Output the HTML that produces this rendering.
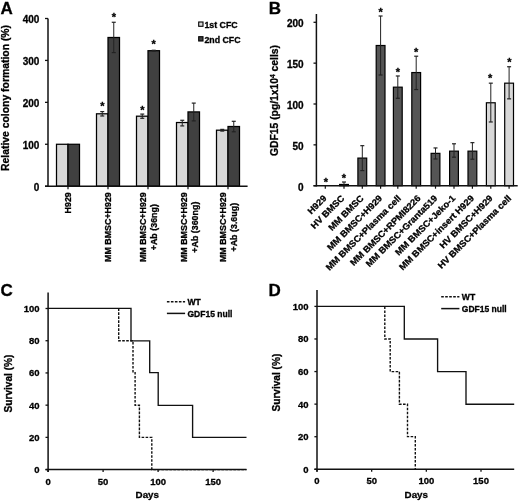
<!DOCTYPE html>
<html><head><meta charset="utf-8"><style>
html,body{margin:0;padding:0;background:#fff;}
svg{display:block;will-change:transform;}
text{font-family:"Liberation Sans", sans-serif;font-weight:bold;fill:#000;stroke:#000;stroke-width:0.3px;}
</style></head><body>
<svg width="520" height="502" viewBox="0 0 520 502">
<rect x="0" y="0" width="520" height="502" fill="#fff"/>
<text x="0.50" y="13.50" font-size="17" text-anchor="start">A</text>
<rect x="56.50" y="144.27" width="11.50" height="41.93" fill="#d8d8d8" stroke="#000" stroke-width="1.25"/>
<rect x="68.00" y="144.27" width="11.50" height="41.93" fill="#404040" stroke="#000" stroke-width="1.25"/>
<rect x="96.50" y="113.80" width="11.50" height="72.40" fill="#d8d8d8" stroke="#000" stroke-width="1.25"/>
<rect x="108.00" y="37.49" width="11.50" height="148.71" fill="#404040" stroke="#000" stroke-width="1.25"/>
<line x1="102.25" y1="111.57" x2="102.25" y2="115.98" stroke="#222" stroke-width="1"/>
<line x1="100.25" y1="111.57" x2="104.25" y2="111.57" stroke="#222" stroke-width="1.2"/>
<line x1="100.25" y1="115.98" x2="104.25" y2="115.98" stroke="#222" stroke-width="1.2"/>
<line x1="113.75" y1="22.27" x2="113.75" y2="52.59" stroke="#222" stroke-width="1"/>
<line x1="111.75" y1="22.27" x2="115.75" y2="22.27" stroke="#222" stroke-width="1.2"/>
<line x1="111.75" y1="52.59" x2="115.75" y2="52.59" stroke="#222" stroke-width="1.2"/>
<rect x="136.50" y="116.19" width="11.50" height="70.01" fill="#d8d8d8" stroke="#000" stroke-width="1.25"/>
<rect x="148.00" y="50.70" width="11.50" height="135.50" fill="#404040" stroke="#000" stroke-width="1.25"/>
<line x1="142.25" y1="114.09" x2="142.25" y2="118.28" stroke="#222" stroke-width="1"/>
<line x1="140.25" y1="114.09" x2="144.25" y2="114.09" stroke="#222" stroke-width="1.2"/>
<line x1="140.25" y1="118.28" x2="144.25" y2="118.28" stroke="#222" stroke-width="1.2"/>
<line x1="153.75" y1="50.28" x2="153.75" y2="51.12" stroke="#222" stroke-width="1"/>
<line x1="151.75" y1="50.28" x2="155.75" y2="50.28" stroke="#222" stroke-width="1.2"/>
<line x1="151.75" y1="51.12" x2="155.75" y2="51.12" stroke="#222" stroke-width="1.2"/>
<rect x="176.50" y="122.52" width="11.50" height="63.68" fill="#d8d8d8" stroke="#000" stroke-width="1.25"/>
<rect x="188.00" y="111.91" width="11.50" height="74.29" fill="#404040" stroke="#000" stroke-width="1.25"/>
<line x1="182.25" y1="120.29" x2="182.25" y2="125.91" stroke="#222" stroke-width="1"/>
<line x1="180.25" y1="120.29" x2="184.25" y2="120.29" stroke="#222" stroke-width="1.2"/>
<line x1="180.25" y1="125.91" x2="184.25" y2="125.91" stroke="#222" stroke-width="1.2"/>
<line x1="193.75" y1="103.10" x2="193.75" y2="120.88" stroke="#222" stroke-width="1"/>
<line x1="191.75" y1="103.10" x2="195.75" y2="103.10" stroke="#222" stroke-width="1.2"/>
<line x1="191.75" y1="120.88" x2="195.75" y2="120.88" stroke="#222" stroke-width="1.2"/>
<rect x="216.50" y="130.19" width="11.50" height="56.01" fill="#d8d8d8" stroke="#000" stroke-width="1.25"/>
<rect x="228.00" y="126.50" width="11.50" height="59.70" fill="#404040" stroke="#000" stroke-width="1.25"/>
<line x1="222.25" y1="129.39" x2="222.25" y2="131.07" stroke="#222" stroke-width="1"/>
<line x1="220.25" y1="129.39" x2="224.25" y2="129.39" stroke="#222" stroke-width="1.2"/>
<line x1="220.25" y1="131.07" x2="224.25" y2="131.07" stroke="#222" stroke-width="1.2"/>
<line x1="233.75" y1="121.30" x2="233.75" y2="131.78" stroke="#222" stroke-width="1"/>
<line x1="231.75" y1="121.30" x2="235.75" y2="121.30" stroke="#222" stroke-width="1.2"/>
<line x1="231.75" y1="131.78" x2="235.75" y2="131.78" stroke="#222" stroke-width="1.2"/>
<text x="102.30" y="110.36" font-size="11" text-anchor="middle">*</text>
<text x="114.00" y="21.16" font-size="11" text-anchor="middle">*</text>
<text x="142.30" y="113.96" font-size="11" text-anchor="middle">*</text>
<text x="153.70" y="48.46" font-size="11" text-anchor="middle">*</text>
<line x1="48.00" y1="18.50" x2="48.00" y2="186.95" stroke="#111" stroke-width="1.5"/>
<line x1="45.00" y1="186.20" x2="247.60" y2="186.20" stroke="#111" stroke-width="1.5"/>
<line x1="45.00" y1="186.20" x2="48.00" y2="186.20" stroke="#111" stroke-width="1.3"/>
<text x="39.40" y="190.90" font-size="10" text-anchor="end">0</text>
<line x1="45.00" y1="144.27" x2="48.00" y2="144.27" stroke="#111" stroke-width="1.3"/>
<text x="39.40" y="148.97" font-size="10" text-anchor="end">100</text>
<line x1="45.00" y1="102.35" x2="48.00" y2="102.35" stroke="#111" stroke-width="1.3"/>
<text x="39.40" y="107.05" font-size="10" text-anchor="end">200</text>
<line x1="45.00" y1="60.42" x2="48.00" y2="60.42" stroke="#111" stroke-width="1.3"/>
<text x="39.40" y="65.12" font-size="10" text-anchor="end">300</text>
<line x1="45.00" y1="18.50" x2="48.00" y2="18.50" stroke="#111" stroke-width="1.3"/>
<text x="39.40" y="23.20" font-size="10" text-anchor="end">400</text>
<line x1="68.00" y1="186.20" x2="68.00" y2="189.20" stroke="#111" stroke-width="1.2"/>
<line x1="108.00" y1="186.20" x2="108.00" y2="189.20" stroke="#111" stroke-width="1.2"/>
<line x1="148.00" y1="186.20" x2="148.00" y2="189.20" stroke="#111" stroke-width="1.2"/>
<line x1="188.00" y1="186.20" x2="188.00" y2="189.20" stroke="#111" stroke-width="1.2"/>
<line x1="228.00" y1="186.20" x2="228.00" y2="189.20" stroke="#111" stroke-width="1.2"/>
<text x="0.00" y="0.00" font-size="10.4" text-anchor="middle" transform="translate(8.80,98.00) rotate(-90)">Relative colony formation (%)</text>
<text x="0.00" y="0.00" font-size="8.9" text-anchor="end" transform="translate(70.90,192.20) rotate(-90)">H929</text>
<text x="0.00" y="0.00" font-size="8.9" text-anchor="end" transform="translate(110.90,192.20) rotate(-90)">MM BMSC+H929</text>
<text x="0.00" y="0.00" font-size="8.9" text-anchor="middle" transform="translate(145.90,227.19) rotate(-90)">MM BMSC+H929</text>
<text x="0.00" y="0.00" font-size="8.9" text-anchor="middle" transform="translate(157.00,227.19) rotate(-90)">+Ab (36ng)</text>
<text x="0.00" y="0.00" font-size="8.9" text-anchor="middle" transform="translate(186.50,227.19) rotate(-90)">MM BMSC+H929</text>
<text x="0.00" y="0.00" font-size="8.9" text-anchor="middle" transform="translate(197.60,227.19) rotate(-90)">+Ab (360ng)</text>
<text x="0.00" y="0.00" font-size="8.9" text-anchor="middle" transform="translate(225.90,227.19) rotate(-90)">MM BMSC+H929</text>
<text x="0.00" y="0.00" font-size="8.9" text-anchor="middle" transform="translate(237.00,227.19) rotate(-90)">+Ab (3.6ug)</text>
<rect x="198.70" y="22.00" width="4.30" height="4.30" fill="#d8d8d8" stroke="#000" stroke-width="1.1"/>
<rect x="198.70" y="36.70" width="4.30" height="4.30" fill="#404040" stroke="#000" stroke-width="1.1"/>
<text x="204.40" y="27.60" font-size="8.8" text-anchor="start">1st CFC</text>
<text x="204.40" y="42.60" font-size="8.8" text-anchor="start">2nd CFC</text>
<text x="268.70" y="13.50" font-size="17" text-anchor="start">B</text>
<rect x="339.60" y="184.47" width="8.80" height="1.23" fill="#555555" stroke="#000" stroke-width="1.2"/>
<line x1="344.00" y1="182.02" x2="344.00" y2="185.29" stroke="#222" stroke-width="1"/>
<line x1="342.00" y1="182.02" x2="346.00" y2="182.02" stroke="#222" stroke-width="1.2"/>
<line x1="342.00" y1="185.29" x2="346.00" y2="185.29" stroke="#222" stroke-width="1.2"/>
<rect x="357.90" y="158.09" width="8.80" height="27.61" fill="#555555" stroke="#000" stroke-width="1.2"/>
<line x1="362.30" y1="145.67" x2="362.30" y2="170.59" stroke="#222" stroke-width="1"/>
<line x1="360.30" y1="145.67" x2="364.30" y2="145.67" stroke="#222" stroke-width="1.2"/>
<line x1="360.30" y1="170.59" x2="364.30" y2="170.59" stroke="#222" stroke-width="1.2"/>
<rect x="376.20" y="45.50" width="8.80" height="140.20" fill="#555555" stroke="#000" stroke-width="1.2"/>
<line x1="380.60" y1="16.01" x2="380.60" y2="75.00" stroke="#222" stroke-width="1"/>
<line x1="378.60" y1="16.01" x2="382.60" y2="16.01" stroke="#222" stroke-width="1.2"/>
<line x1="378.60" y1="75.00" x2="382.60" y2="75.00" stroke="#222" stroke-width="1.2"/>
<rect x="393.40" y="87.17" width="8.80" height="98.53" fill="#555555" stroke="#000" stroke-width="1.2"/>
<line x1="397.80" y1="75.98" x2="397.80" y2="98.28" stroke="#222" stroke-width="1"/>
<line x1="395.80" y1="75.98" x2="399.80" y2="75.98" stroke="#222" stroke-width="1.2"/>
<line x1="395.80" y1="98.28" x2="399.80" y2="98.28" stroke="#222" stroke-width="1.2"/>
<rect x="411.80" y="72.55" width="8.80" height="113.15" fill="#555555" stroke="#000" stroke-width="1.2"/>
<line x1="416.20" y1="56.21" x2="416.20" y2="89.54" stroke="#222" stroke-width="1"/>
<line x1="414.20" y1="56.21" x2="418.20" y2="56.21" stroke="#222" stroke-width="1.2"/>
<line x1="414.20" y1="89.54" x2="418.20" y2="89.54" stroke="#222" stroke-width="1.2"/>
<rect x="431.10" y="153.35" width="8.80" height="32.35" fill="#555555" stroke="#000" stroke-width="1.2"/>
<line x1="435.50" y1="147.95" x2="435.50" y2="158.98" stroke="#222" stroke-width="1"/>
<line x1="433.50" y1="147.95" x2="437.50" y2="147.95" stroke="#222" stroke-width="1.2"/>
<line x1="433.50" y1="158.98" x2="437.50" y2="158.98" stroke="#222" stroke-width="1.2"/>
<rect x="449.60" y="151.14" width="8.80" height="34.56" fill="#555555" stroke="#000" stroke-width="1.2"/>
<line x1="454.00" y1="143.79" x2="454.00" y2="157.19" stroke="#222" stroke-width="1"/>
<line x1="452.00" y1="143.79" x2="456.00" y2="143.79" stroke="#222" stroke-width="1.2"/>
<line x1="452.00" y1="157.19" x2="456.00" y2="157.19" stroke="#222" stroke-width="1.2"/>
<rect x="468.00" y="151.14" width="8.80" height="34.56" fill="#555555" stroke="#000" stroke-width="1.2"/>
<line x1="472.40" y1="142.64" x2="472.40" y2="159.23" stroke="#222" stroke-width="1"/>
<line x1="470.40" y1="142.64" x2="474.40" y2="142.64" stroke="#222" stroke-width="1.2"/>
<line x1="470.40" y1="159.23" x2="474.40" y2="159.23" stroke="#222" stroke-width="1.2"/>
<rect x="486.40" y="102.77" width="8.80" height="82.93" fill="#d8d8d8" stroke="#000" stroke-width="1.2"/>
<line x1="490.80" y1="83.17" x2="490.80" y2="121.97" stroke="#222" stroke-width="1"/>
<line x1="488.80" y1="83.17" x2="492.80" y2="83.17" stroke="#222" stroke-width="1.2"/>
<line x1="488.80" y1="121.97" x2="492.80" y2="121.97" stroke="#222" stroke-width="1.2"/>
<rect x="504.70" y="83.17" width="8.80" height="102.53" fill="#d8d8d8" stroke="#000" stroke-width="1.2"/>
<line x1="509.10" y1="66.74" x2="509.10" y2="98.85" stroke="#222" stroke-width="1"/>
<line x1="507.10" y1="66.74" x2="511.10" y2="66.74" stroke="#222" stroke-width="1.2"/>
<line x1="507.10" y1="98.85" x2="511.10" y2="98.85" stroke="#222" stroke-width="1.2"/>
<text x="325.80" y="186.36" font-size="11" text-anchor="middle">*</text>
<text x="344.00" y="182.46" font-size="11" text-anchor="middle">*</text>
<text x="380.60" y="15.66" font-size="11" text-anchor="middle">*</text>
<text x="397.80" y="76.36" font-size="11" text-anchor="middle">*</text>
<text x="416.20" y="56.16" font-size="11" text-anchor="middle">*</text>
<text x="490.20" y="81.96" font-size="11" text-anchor="middle">*</text>
<text x="509.30" y="65.76" font-size="11" text-anchor="middle">*</text>
<line x1="316.40" y1="14.00" x2="316.40" y2="186.45" stroke="#111" stroke-width="1.5"/>
<line x1="313.50" y1="185.70" x2="517.70" y2="185.70" stroke="#111" stroke-width="1.5"/>
<line x1="313.50" y1="185.70" x2="316.40" y2="185.70" stroke="#111" stroke-width="1.3"/>
<text x="303.60" y="190.80" font-size="10" text-anchor="end">0</text>
<line x1="313.50" y1="144.85" x2="316.40" y2="144.85" stroke="#111" stroke-width="1.3"/>
<text x="303.60" y="149.95" font-size="10" text-anchor="end">50</text>
<line x1="313.50" y1="104.00" x2="316.40" y2="104.00" stroke="#111" stroke-width="1.3"/>
<text x="303.60" y="109.10" font-size="10" text-anchor="end">100</text>
<line x1="313.50" y1="63.15" x2="316.40" y2="63.15" stroke="#111" stroke-width="1.3"/>
<text x="303.60" y="68.25" font-size="10" text-anchor="end">150</text>
<line x1="313.50" y1="22.30" x2="316.40" y2="22.30" stroke="#111" stroke-width="1.3"/>
<text x="303.60" y="27.40" font-size="10" text-anchor="end">200</text>
<line x1="325.30" y1="185.70" x2="325.30" y2="188.70" stroke="#111" stroke-width="1.2"/>
<line x1="344.00" y1="185.70" x2="344.00" y2="188.70" stroke="#111" stroke-width="1.2"/>
<line x1="362.30" y1="185.70" x2="362.30" y2="188.70" stroke="#111" stroke-width="1.2"/>
<line x1="380.60" y1="185.70" x2="380.60" y2="188.70" stroke="#111" stroke-width="1.2"/>
<line x1="397.80" y1="185.70" x2="397.80" y2="188.70" stroke="#111" stroke-width="1.2"/>
<line x1="416.20" y1="185.70" x2="416.20" y2="188.70" stroke="#111" stroke-width="1.2"/>
<line x1="435.50" y1="185.70" x2="435.50" y2="188.70" stroke="#111" stroke-width="1.2"/>
<line x1="454.00" y1="185.70" x2="454.00" y2="188.70" stroke="#111" stroke-width="1.2"/>
<line x1="472.40" y1="185.70" x2="472.40" y2="188.70" stroke="#111" stroke-width="1.2"/>
<line x1="490.80" y1="185.70" x2="490.80" y2="188.70" stroke="#111" stroke-width="1.2"/>
<line x1="509.10" y1="185.70" x2="509.10" y2="188.70" stroke="#111" stroke-width="1.2"/>
<text transform="translate(278.2,100.5) rotate(-90)" x="0" y="0" font-size="10.35" text-anchor="middle">GDF15 (pg/1x10<tspan font-size="6.5" dy="-3.5">4</tspan><tspan dy="3.5"> cells)</tspan></text>
<text transform="translate(327.10,198.90) rotate(-45) scale(1.04,1)" x="0" y="0" font-size="9.0" text-anchor="end">H929</text>
<text transform="translate(345.00,198.90) rotate(-45) scale(1.04,1)" x="0" y="0" font-size="9.0" text-anchor="end">HV BMSC</text>
<text transform="translate(364.20,198.90) rotate(-45) scale(1.04,1)" x="0" y="0" font-size="9.0" text-anchor="end">MM BMSC</text>
<text transform="translate(382.80,198.90) rotate(-45) scale(1.04,1)" x="0" y="0" font-size="9.0" text-anchor="end">MM BMSC+H929</text>
<text transform="translate(401.60,198.90) rotate(-45) scale(1.04,1)" x="0" y="0" font-size="9.0" text-anchor="end">MM BMSC+Plasma cell</text>
<text transform="translate(421.20,198.90) rotate(-45) scale(1.04,1)" x="0" y="0" font-size="9.0" text-anchor="end">MM BMSC+RPMI8226</text>
<text transform="translate(438.00,198.90) rotate(-45) scale(1.04,1)" x="0" y="0" font-size="9.0" text-anchor="end">MM BMSC+Granta519</text>
<text transform="translate(455.90,198.90) rotate(-45) scale(1.04,1)" x="0" y="0" font-size="9.0" text-anchor="end">MM BMSC+Jeko-1</text>
<text transform="translate(474.60,198.90) rotate(-45) scale(1.04,1)" x="0" y="0" font-size="9.0" text-anchor="end">MM BMSC+insert H929</text>
<text transform="translate(493.30,198.90) rotate(-45) scale(1.04,1)" x="0" y="0" font-size="9.0" text-anchor="end">HV BMSC+H929</text>
<text transform="translate(511.90,198.90) rotate(-45) scale(1.04,1)" x="0" y="0" font-size="9.0" text-anchor="end">HV BMSC+Plasma cell</text>
<text x="0.50" y="296.20" font-size="17" text-anchor="start">C</text>
<line x1="48.10" y1="292.50" x2="48.10" y2="472.10" stroke="#111" stroke-width="1.5"/>
<line x1="45.50" y1="469.60" x2="246.50" y2="469.60" stroke="#111" stroke-width="1.5"/>
<line x1="45.50" y1="469.60" x2="48.10" y2="469.60" stroke="#111" stroke-width="1.3"/>
<text x="39.60" y="473.00" font-size="9.5" text-anchor="end">0</text>
<line x1="45.50" y1="437.38" x2="48.10" y2="437.38" stroke="#111" stroke-width="1.3"/>
<text x="39.60" y="440.78" font-size="9.5" text-anchor="end">20</text>
<line x1="45.50" y1="405.16" x2="48.10" y2="405.16" stroke="#111" stroke-width="1.3"/>
<text x="39.60" y="408.56" font-size="9.5" text-anchor="end">40</text>
<line x1="45.50" y1="372.94" x2="48.10" y2="372.94" stroke="#111" stroke-width="1.3"/>
<text x="39.60" y="376.34" font-size="9.5" text-anchor="end">60</text>
<line x1="45.50" y1="340.72" x2="48.10" y2="340.72" stroke="#111" stroke-width="1.3"/>
<text x="39.60" y="344.12" font-size="9.5" text-anchor="end">80</text>
<line x1="45.50" y1="308.50" x2="48.10" y2="308.50" stroke="#111" stroke-width="1.3"/>
<text x="39.60" y="311.90" font-size="9.5" text-anchor="end">100</text>
<line x1="48.10" y1="469.60" x2="48.10" y2="472.10" stroke="#111" stroke-width="1.3"/>
<text x="48.10" y="485.00" font-size="9.5" text-anchor="middle">0</text>
<line x1="103.10" y1="469.60" x2="103.10" y2="472.10" stroke="#111" stroke-width="1.3"/>
<text x="103.10" y="485.00" font-size="9.5" text-anchor="middle">50</text>
<line x1="158.10" y1="469.60" x2="158.10" y2="472.10" stroke="#111" stroke-width="1.3"/>
<text x="158.10" y="485.00" font-size="9.5" text-anchor="middle">100</text>
<line x1="213.10" y1="469.60" x2="213.10" y2="472.10" stroke="#111" stroke-width="1.3"/>
<text x="213.10" y="485.00" font-size="9.5" text-anchor="middle">150</text>
<text x="0.00" y="0.00" font-size="10.1" text-anchor="middle" transform="translate(12.30,383.50) rotate(-90)">Survival (%)</text>
<text x="135.60" y="498.30" font-size="9.8" text-anchor="start">Days</text>
<polyline points="48.00,308.30 131.00,308.30 131.00,340.80 149.70,340.80 149.70,372.60 158.20,372.60 158.20,405.30 192.60,405.30 192.60,437.40 246.50,437.40" fill="none" stroke="#111" stroke-width="1.35"/>
<polyline points="118.70,308.30 118.70,340.80 133.00,340.80 133.00,372.60 135.10,372.60 135.10,405.30 139.40,405.30 139.40,437.40 151.80,437.40 151.80,469.60 246.50,469.60" fill="none" stroke="#111" stroke-width="1.4" stroke-dasharray="2.6,1.4"/>
<line x1="166.90" y1="301.80" x2="185.10" y2="301.80" stroke="#111" stroke-width="1.4" stroke-dasharray="2.6,1.4"/>
<line x1="166.90" y1="313.40" x2="185.10" y2="313.40" stroke="#111" stroke-width="1.5"/>
<text x="187.50" y="304.80" font-size="8.6" text-anchor="start">WT</text>
<text x="187.50" y="317.20" font-size="8.5" text-anchor="start">GDF15 null</text>
<text x="268.60" y="295.60" font-size="17" text-anchor="start">D</text>
<line x1="317.00" y1="290.10" x2="317.00" y2="471.80" stroke="#111" stroke-width="1.5"/>
<line x1="314.40" y1="469.30" x2="514.20" y2="469.30" stroke="#111" stroke-width="1.5"/>
<line x1="314.40" y1="469.30" x2="317.00" y2="469.30" stroke="#111" stroke-width="1.3"/>
<text x="308.50" y="472.70" font-size="9.5" text-anchor="end">0</text>
<line x1="314.40" y1="436.72" x2="317.00" y2="436.72" stroke="#111" stroke-width="1.3"/>
<text x="308.50" y="440.12" font-size="9.5" text-anchor="end">20</text>
<line x1="314.40" y1="404.14" x2="317.00" y2="404.14" stroke="#111" stroke-width="1.3"/>
<text x="308.50" y="407.54" font-size="9.5" text-anchor="end">40</text>
<line x1="314.40" y1="371.56" x2="317.00" y2="371.56" stroke="#111" stroke-width="1.3"/>
<text x="308.50" y="374.96" font-size="9.5" text-anchor="end">60</text>
<line x1="314.40" y1="338.98" x2="317.00" y2="338.98" stroke="#111" stroke-width="1.3"/>
<text x="308.50" y="342.38" font-size="9.5" text-anchor="end">80</text>
<line x1="314.40" y1="306.40" x2="317.00" y2="306.40" stroke="#111" stroke-width="1.3"/>
<text x="308.50" y="309.80" font-size="9.5" text-anchor="end">100</text>
<line x1="317.00" y1="469.30" x2="317.00" y2="471.80" stroke="#111" stroke-width="1.3"/>
<text x="317.00" y="483.80" font-size="9.5" text-anchor="middle">0</text>
<line x1="371.67" y1="469.30" x2="371.67" y2="471.80" stroke="#111" stroke-width="1.3"/>
<text x="371.67" y="483.80" font-size="9.5" text-anchor="middle">50</text>
<line x1="426.33" y1="469.30" x2="426.33" y2="471.80" stroke="#111" stroke-width="1.3"/>
<text x="426.33" y="483.80" font-size="9.5" text-anchor="middle">100</text>
<line x1="481.00" y1="469.30" x2="481.00" y2="471.80" stroke="#111" stroke-width="1.3"/>
<text x="481.00" y="483.80" font-size="9.5" text-anchor="middle">150</text>
<text x="0.00" y="0.00" font-size="10.1" text-anchor="middle" transform="translate(280.40,382.60) rotate(-90)">Survival (%)</text>
<text x="404.60" y="497.60" font-size="9.8" text-anchor="start">Days</text>
<polyline points="317.00,306.40 404.30,306.40 404.30,339.00 437.60,339.00 437.60,371.60 466.00,371.60 466.00,404.20 514.20,404.20" fill="none" stroke="#111" stroke-width="1.35"/>
<polyline points="384.80,306.40 384.80,339.00 390.20,339.00 390.20,371.60 399.40,371.60 399.40,404.20 407.50,404.20 407.50,436.60 415.30,436.60 415.30,469.30" fill="none" stroke="#111" stroke-width="1.4" stroke-dasharray="2.6,1.4"/>
<line x1="441.20" y1="296.80" x2="459.40" y2="296.80" stroke="#111" stroke-width="1.4" stroke-dasharray="2.6,1.4"/>
<line x1="441.20" y1="308.60" x2="459.40" y2="308.60" stroke="#111" stroke-width="1.5"/>
<text x="461.80" y="299.80" font-size="8.6" text-anchor="start">WT</text>
<text x="461.80" y="312.40" font-size="8.5" text-anchor="start">GDF15 null</text>
</svg>
</body></html>
